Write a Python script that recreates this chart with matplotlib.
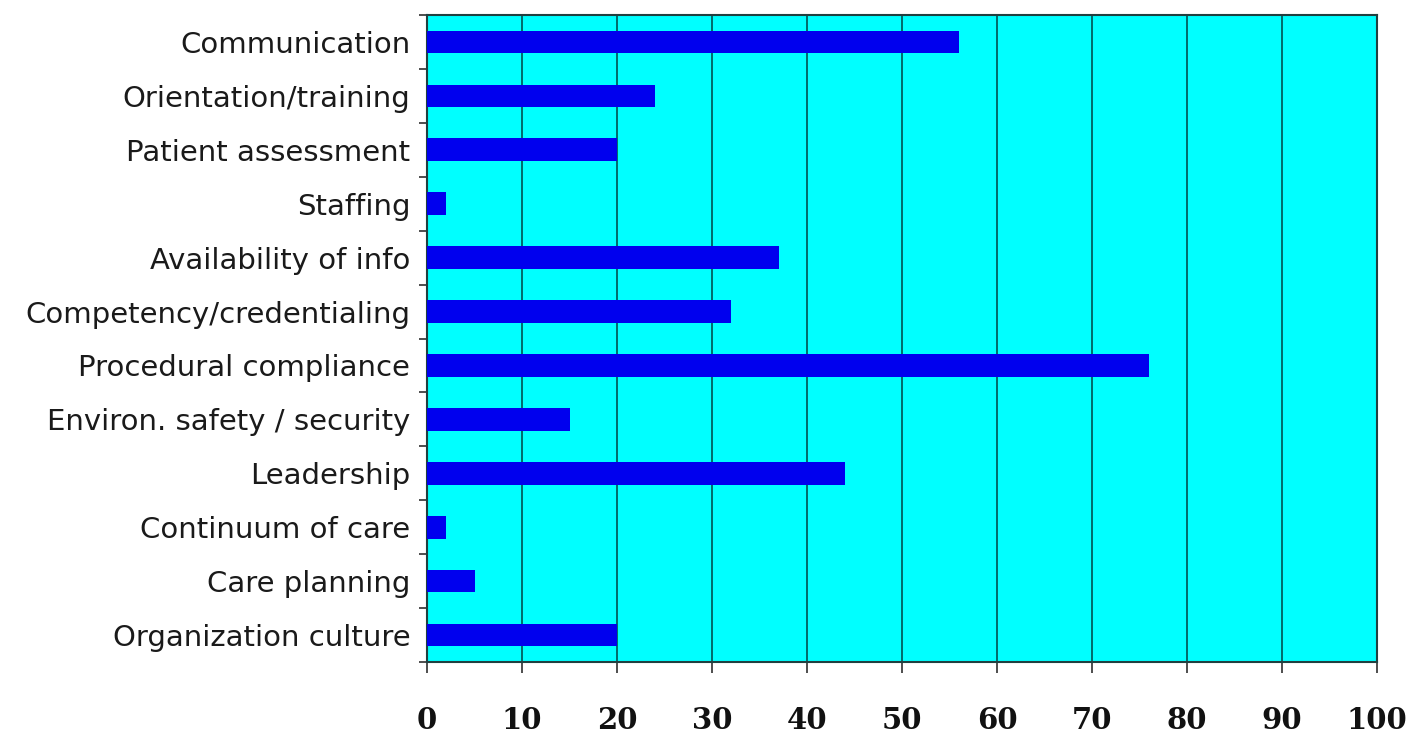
import matplotlib
matplotlib.use("Agg")
import matplotlib.pyplot as plt
import numpy as np

categories = ["Communication", "Orientation/training", "Patient assessment", "Staffing",
              "Availability of info", "Competency/credentialing", "Procedural compliance",
              "Environ. safety / security", "Leadership", "Continuum of care",
              "Care planning", "Organization culture"]
values = [56, 24, 20, 2, 37, 32, 76, 15, 44, 2, 5, 20]
xticks = list(range(0, 101, 10))

fig = plt.figure(figsize=(14.14, 7.34), dpi=100)
ax = fig.add_axes([427 / 1414, 1 - 662 / 734, 950 / 1414, 647 / 734])
ax.set_facecolor("#00FFFF")

y = np.arange(len(categories))
ax.barh(y, values, height=0.42, color="#0000EE", zorder=3)
ax.set_ylim(len(categories) - 0.5, -0.5)
ax.set_xlim(0, 100)

ax.set_xticks(xticks)
ax.set_xticklabels([str(t) for t in xticks], family="DejaVu Serif",
                   fontweight="bold", fontsize=21, color="#111111")
ax.tick_params(axis="x", length=8, width=1.2, color="#303030", pad=24)
ax.grid(axis="x", color="#005f5f", linewidth=1.3, zorder=1)

# category labels sit at bar centres, tick marks sit between bars
ax.set_yticks(y)
ax.set_yticklabels(categories, family="DejaVu Sans", fontsize=21, color="#1a1a1a")
ax.tick_params(axis="y", length=0, pad=12)
ax.set_yticks(np.arange(-0.5, len(categories), 1), minor=True)
ax.tick_params(axis="y", which="minor", length=6, width=1.2, color="#303030")

for s in ax.spines.values():
    s.set_color("#204040")
    s.set_linewidth(1.5)

fig.savefig("out.png", dpi=100, facecolor="white")
